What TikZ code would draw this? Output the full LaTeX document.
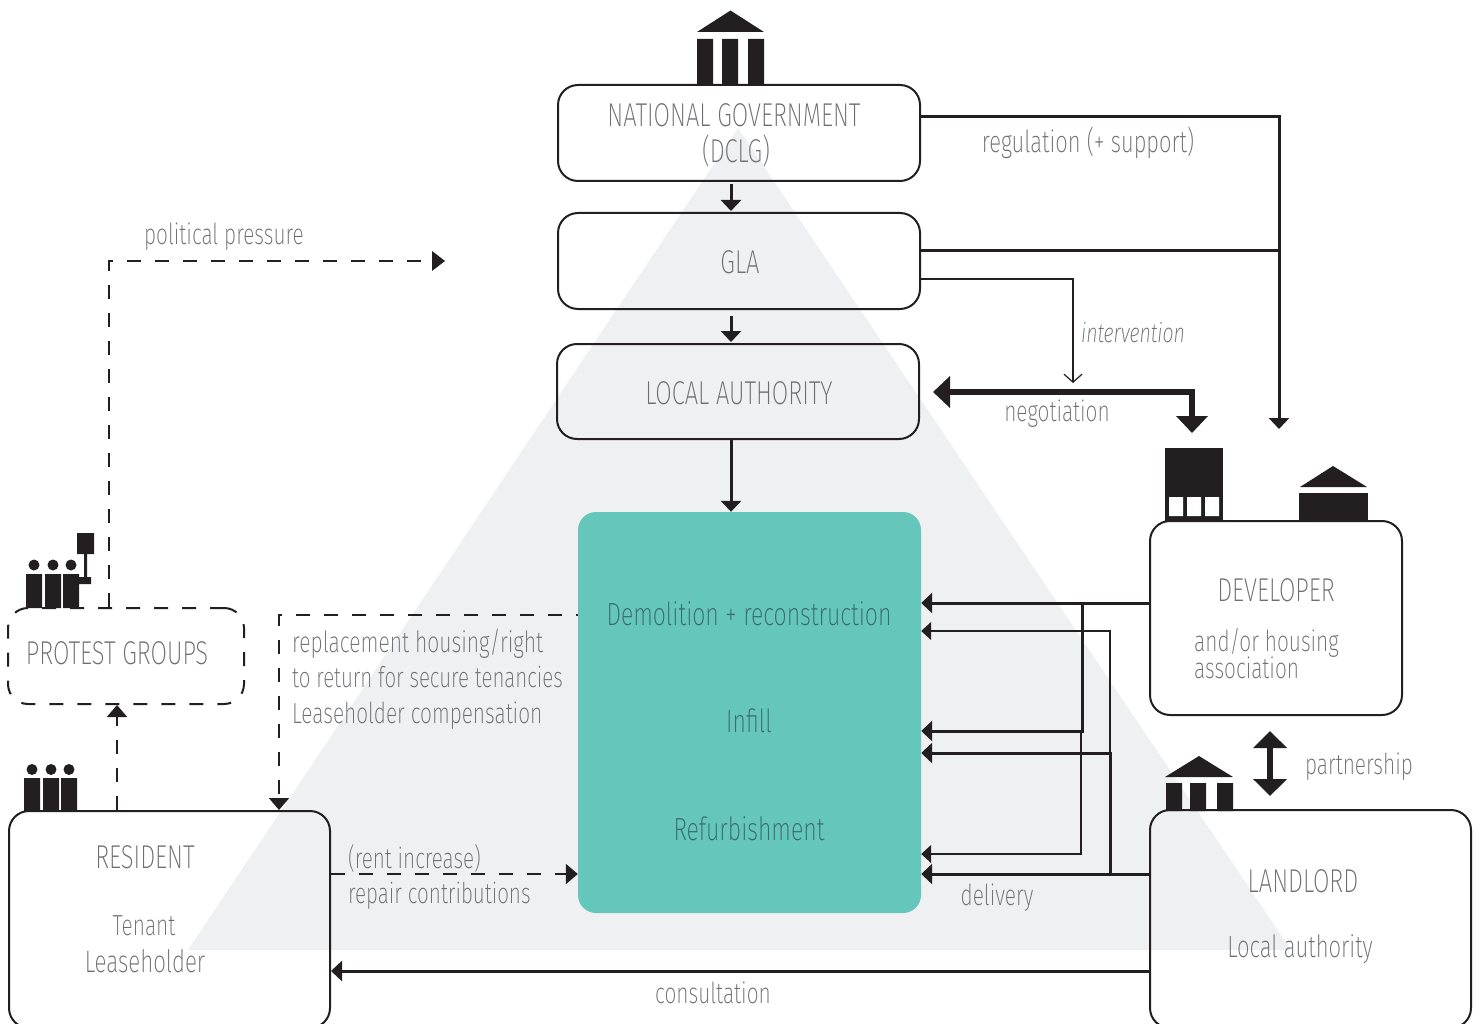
\documentclass[tikz,border=0pt]{standalone}
\usepackage{fontspec}
\setmainfont{Fira Sans ExtraLight}[FakeStretch=0.72,ItalicFont={Fira Sans ExtraLight Italic}]
\usetikzlibrary{arrows.meta,calc}
\definecolor{ink}{HTML}{231F20}
\definecolor{txt}{HTML}{6D6E71}
\definecolor{txtteal}{HTML}{3A6B6A}
\definecolor{tri}{HTML}{EFF0F2}
\definecolor{tealbox}{HTML}{65C6BB}
\tikzset{
  x=1pt,y=-1pt,
  box/.style={draw=ink,line width=2pt,rounded corners=20pt,inner sep=0pt},
  dashbox/.style={box,dash pattern=on 14pt off 14pt},
  lab/.style={text=txt,inner sep=0pt,font=\fontsize{29}{35}\selectfont},
  caps/.style={lab,font=\fontsize{33}{35}\selectfont},
  tealt/.style={lab,text=txtteal,font=\fontsize{32}{35}\selectfont},
  heavy/.style={draw=ink,line width=5.5pt,{Triangle[length=17pt,width=31pt]}-{Triangle[length=17pt,width=31pt]}},
  medium/.style={draw=ink,line width=3pt,-{Triangle[length=11pt,width=20pt]}},
  plainmed/.style={draw=ink,line width=3pt},
  thinl/.style={draw=ink,line width=1.4pt,-{Triangle[length=10pt,width=18pt]}},
  barbl/.style={draw=ink,line width=1.2pt,-{Straight Barb[length=8pt,width=18pt]}},
  dashl/.style={draw=ink,line width=2pt,dash pattern=on 14pt off 14pt,-{Triangle[length=12pt,width=20pt]}},
  dashp/.style={draw=ink,line width=2pt,dash pattern=on 14pt off 14pt},
}
\begin{document}
\begin{tikzpicture}
\clip (0,0) rectangle (1480,1024);
\fill[tri] (738,128) -- (1291,950) -- (188,950) -- cycle;

% icons
\fill[ink] (697,32) -- (730.5,10.5) -- (764,32) -- cycle;
\fill[ink] (697,39) rectangle (713,85) (722,39) rectangle (738,85) (748,39) rectangle (764,85);
\fill[ink] (1165,777) -- (1199,756) -- (1233,777) -- cycle;
\fill[ink] (1166,783) rectangle (1182,811) (1190,783) rectangle (1206,811) (1217,783) rectangle (1233,811);
\fill[ink] (1165,448) rectangle (1223,521);
\fill[white] (1169,497) rectangle (1183,516) (1187,497) rectangle (1201,516) (1205,497) rectangle (1219,516);
\fill[ink] (1300,487) -- (1333,466) -- (1367,487) -- cycle;
\fill[ink] (1299,493) rectangle (1368,521);
\fill[ink] (34,565) circle (5.5) (53,565) circle (5.5) (71,565) circle (5.5);
\fill[ink] (26,574) rectangle (42,608) (45,574) rectangle (61,608) (63,574) rectangle (79,608);
\fill[ink] (77,533) rectangle (94,554) (84,554) rectangle (87,578) (79,577) rectangle (91,584);
\fill[ink] (32,769.5) circle (5.5) (51,769.5) circle (5.5) (69,769.5) circle (5.5);
\fill[ink] (24,778) rectangle (40,811) (43,778) rectangle (59,811) (61,778) rectangle (77,811);

% boxes
\node[box,minimum width=362pt,minimum height=96pt] (nat) at (739,133) {};
\node[box,minimum width=362pt,minimum height=96pt] (gla) at (739,261) {};
\node[box,minimum width=362pt,minimum height=95pt] (la) at (738,391.5) {};
\node[fill=tealbox,rounded corners=18pt,minimum width=343pt,minimum height=401pt,inner sep=0pt] (teal) at (749.5,712.5) {};
\node[box,minimum width=252pt,minimum height=194pt] (dev) at (1276,618) {};
\node[box,minimum width=321pt,minimum height=217pt] (res) at (169.5,919.5) {};
\node[box,minimum width=321pt,minimum height=218pt] (land) at (1310.5,919) {};
\node[dashbox,minimum width=236pt,minimum height=96pt] (prot) at (126,656) {};

% labels
\node[caps] (n1) at (734,115.5) {NATIONAL GOVERNMENT};
\node[caps] (n2) at (736,150.5) {(DCLG)};
\node[caps] (n3) at (740,262.5) {GLA};
\node[caps] (n4) at (739,393.5) {LOCAL AUTHORITY};
\node[caps] (n5) at (117,653.5) {PROTEST GROUPS};
\node[tealt] (t1) at (749,613.5) {Demolition + reconstruction};
\node[tealt] (t2) at (749,721) {Infill};
\node[tealt] (t3) at (749,829) {Refurbishment};
\node[caps] (d1) at (1276,590.5) {DEVELOPER};
\node[lab,anchor=west] (d2) at (1194,642.5) {and/or housing};
\node[lab,anchor=west] (d3) at (1194,668) {association};
\node[caps] (l1) at (1303,881.5) {LANDLORD};
\node[lab,font=\fontsize{30.7}{35}\selectfont] (l2) at (1300,949.5) {Local authority};
\node[caps] (r1) at (145,857.5) {RESIDENT};
\node[lab] (r2) at (144,926) {Tenant};
\node[lab,font=\fontsize{31}{35}\selectfont] (r3) at (145,961.5) {Leaseholder};
\node[lab,font=\fontsize{30.5}{35}\selectfont] (a1) at (1088,142.5) {regulation (+ support)};
\node[lab] (a2) at (224,237) {political pressure};
\node[lab,font=\fontsize{27}{35}\selectfont] (a3) at (1133,333) {\itshape intervention};
\node[lab] (a4) at (1057,414) {negotiation};
\node[lab] (a5) at (1359,767) {partnership};
\node[lab,anchor=west,font=\fontsize{29.3}{35}\selectfont] (a6) at (292,643.5) {replacement housing/right};
\node[lab,anchor=west,font=\fontsize{28.5}{35}\selectfont] (a7) at (292,677.5) {to return for secure tenancies};
\node[lab,anchor=west] (a8) at (292,716) {Leaseholder compensation};
\node[lab,anchor=west,font=\fontsize{28.7}{35}\selectfont] (a9) at (348,858) {(rent increase)};
\node[lab,anchor=west,font=\fontsize{28.7}{35}\selectfont] (a10) at (348,896) {repair contributions};
\node[lab] (a11) at (997,898) {delivery};
\node[lab] (a12) at (713,993) {consultation};

% free-end coordinates
\coordinate (polend) at (445,261);
\coordinate (negL) at (933,392);
\coordinate (negD) at (1192,433);
\coordinate (regD) at (1279,429);
\coordinate (intD) at (1073,383);

% connectors
\draw[medium] (nat.south -| 731,0) ++(0,2) -- ++(0,27);
\draw[medium] (gla.south -| 731,0) ++(0,6) -- ++(0,26);
\draw[medium] (la.south -| 731,0) -- (teal.north -| 731,0);
\draw[medium] (nat.east |- 0,117) -- (1279,117) -- (regD);
\draw[plainmed] (gla.east |- 0,251) -- (1280,251);
\draw[barbl] (gla.east |- 0,279) -- (1073,279) -- (intD);
\draw[heavy] (negL) -- (1192,392) -- (negD);
\draw[dashp] (prot.north -| 109,0) -- (109,261) -- (434,261);
\fill[ink] (polend) -- (432,251) -- (432,271) -- cycle;
\draw[dashl] (res.north -| 117,0) -- (prot.south -| 117,0);
\draw[dashl,dash phase=12pt] (teal.west |- 0,615) -- (279,615) -- (res.north -| 279,0);
\draw[dashl] (res.east |- 0,874) -- (teal.west |- 0,874);
\draw[medium] (land.west |- 0,971) -- (res.east |- 0,971);
\draw[draw=ink,line width=6pt,{Triangle[length=17pt,width=33pt]}-{Triangle[length=17pt,width=33pt]}] (1270,731) -- (1270,796);
\draw[medium] (dev.west |- 0,603) -- (teal.east |- 0,603);
\draw[medium] (1082,603) -- (1082,731) -- (teal.east |- 0,731);
\draw[medium] (land.west |- 0,874) -- (teal.east |- 0,874);
\draw[medium] (1110,874) -- (1110,753) -- (teal.east |- 0,753);
\draw[thinl] (1110,753) -- (1110,631) -- (teal.east |- 0,631);
\draw[thinl] (1081,731) -- (1081,854) -- (teal.east |- 0,854);
\end{tikzpicture}
\end{document}
